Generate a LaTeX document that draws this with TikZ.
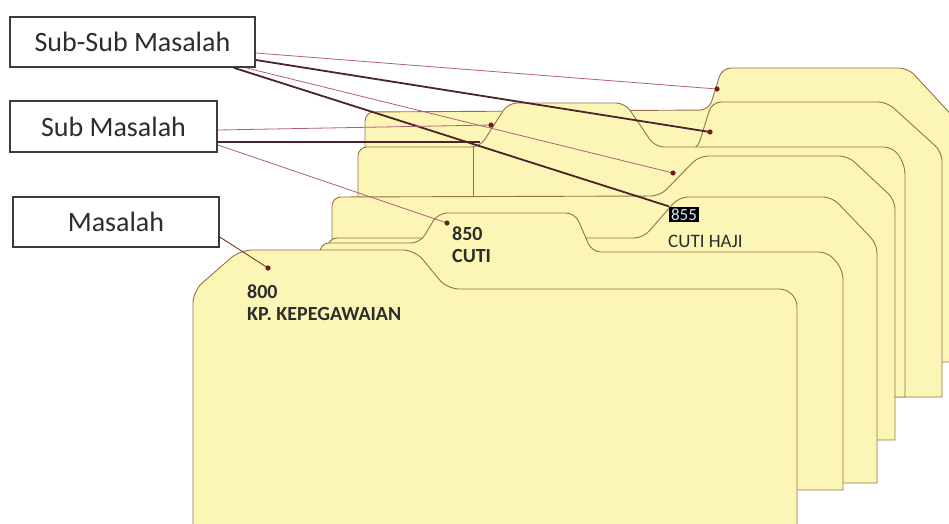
\documentclass[tikz,border=0pt]{standalone}
\usepackage{fontspec}
\setmainfont{Carlito}
\definecolor{fold}{RGB}{252,246,182}
\definecolor{foldline}{RGB}{150,112,75}
\definecolor{thinc}{RGB}{175,95,120}
\definecolor{thickc}{RGB}{75,35,40}
\definecolor{dotc}{RGB}{110,30,30}
\definecolor{boxline}{RGB}{60,60,60}
\definecolor{txt}{RGB}{45,45,45}
\tikzset{
  folder/.style={fill=fold, draw=foldline, line width=0.9pt},
  labelbox/.style={draw=boxline, line width=1.6pt, fill=white, inner sep=0pt,
    font=\fontsize{28}{32}\selectfont, text=txt},
  thinlink/.style={draw=thinc, line width=0.8pt},
  thicklink/.style={draw=thickc, line width=1.8pt},
  flabel/.style={font=\fontsize{20}{22}\selectfont\bfseries, text=txt, anchor=base west, inner sep=0pt},
  flabelreg/.style={font=\fontsize{19}{22}\selectfont, text=txt, anchor=base west, inner sep=0pt}
}
\begin{document}
\begin{tikzpicture}[x=1pt,y=-1pt]
\useasboundingbox (0,0) rectangle (949,523);
% folders, back to front
\path[folder] (958,362) -- (365,362) [rounded corners=9pt] -- (365,112) -- (709,110) -- (722,68) -- (908,68) -- (958,122) -- (958,250) [sharp corners] -- (958,362) -- cycle;
\path[folder] (942,397) -- (370,397) [rounded corners=9pt] -- (370,150) -- (697,150) -- (712,102) -- (887,102) -- (942,152) -- (942,300) [sharp corners] -- (942,397) -- cycle;
\path[folder] (905,397) -- (358,397) [rounded corners=9pt] -- (358,147) -- (480,147) -- (508,103) -- (625,103) -- (655,147) -- (893,147) -- (905,165) -- (905,300) [sharp corners] -- (905,397) -- cycle;
\draw[foldline, line width=0.9pt] (473,147) -- (473,197);
\path[folder] (895,440) -- (332,440) [rounded corners=9pt] -- (332,197) -- (660,196) -- (699,156) -- (848,156) -- (895,200) -- (895,300) [sharp corners] -- (895,440) -- cycle;
\path[folder] (877,483) -- (328,483) [rounded corners=9pt] -- (328,238) -- (643,238) -- (679,197) -- (832,197) -- (877,244) -- (877,300) [sharp corners] -- (877,483) -- cycle;
\path[folder] (843,490) -- (320,490) [rounded corners=9pt] -- (320,243) -- (420,243) -- (438,213) -- (575,213) -- (592,252) -- (828,252) -- (843,270) -- (843,400) [sharp corners] -- (843,490) -- cycle;
\path[folder] (797,560) -- (193,560) [rounded corners=12pt] -- (193,291) -- (240,250) -- (415,250) -- (447,289) [rounded corners=18pt] -- (797,289) -- (797,400) [sharp corners] -- (797,560) -- cycle;
% folder labels
\node[flabel] (l800) at (247,298) {800};
\node[flabel] (lkp) at (247,320) {KP. KEPEGAWAIAN};
\node[flabel] (l850) at (452,240) {850};
\node[flabel] (lcuti) at (452,262) {CUTI};
\node[flabelreg, font=\fontsize{17}{20}\selectfont, fill=black, text={rgb,255:red,205;green,230;blue,255}, inner sep=1.8pt] (n855) at (669,220) {855};
\node[flabelreg] (lhaji) at (668,247) {CUTI HAJI};
% boxes
\node[labelbox, minimum width=245pt, minimum height=50pt] (ssm) at (132.5,42) {Sub-Sub Masalah};
\node[labelbox, minimum width=207pt, minimum height=51pt] (sm) at (113.5,126.5) {Sub Masalah};
\node[labelbox, minimum width=206pt, minimum height=50pt] (m) at (116,222) {Masalah};
% connector ends
\coordinate (d1) at (717,89);
\coordinate (d2) at (710,132);
\coordinate (d3) at (673,173);
\coordinate (d5) at (491,125);
\coordinate (d6) at (480,142);
\coordinate (d7) at (447,223);
\coordinate (d8) at (268,268);
% connectors
\draw[thinlink] ([yshift=-11pt]ssm.east) -- (d1);
\draw[thicklink] ([yshift=-18pt]ssm.east) -- (d2);
\draw[thinlink] ([xshift=-10pt]ssm.south east) -- (d3);
\draw[thicklink] ([xshift=-22pt]ssm.south east) -- (n855.north west);
\draw[thinlink] ([yshift=-3.5pt]sm.east) -- (d5);
\draw[thicklink] ([yshift=-15.5pt]sm.east) -- (d6);
\draw[thinlink] ([yshift=-18.5pt]sm.east) -- (d7);
\draw[thinlink, draw=dotc] ([yshift=-15pt]m.east) -- (d8);
\foreach \d in {d1,d2,d3,d5,d7,d8} \fill[dotc] (\d) circle (2.6pt);
\end{tikzpicture}
\end{document}
